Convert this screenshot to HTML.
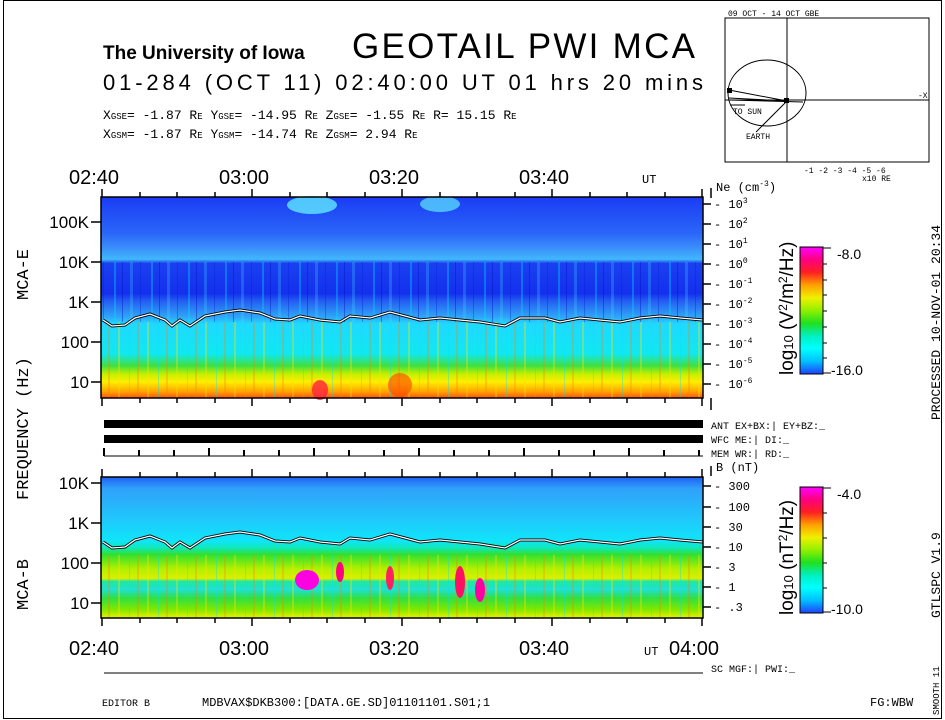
<!DOCTYPE html>
<html><head><meta charset="utf-8"><style>
body{margin:0;background:#fff;}
svg{display:block;font-family:"Liberation Mono","DejaVu Sans Mono",monospace;}
</style></head><body>
<svg width="945" height="720" viewBox="0 0 945 720" xmlns="http://www.w3.org/2000/svg">
<defs>
<linearGradient id="ge" x1="0" y1="0" x2="0" y2="1">
<stop offset="0" stop-color="#1a3cf5"/>
<stop offset="0.18" stop-color="#2a66f8"/>
<stop offset="0.25" stop-color="#3a8cfa"/>
<stop offset="0.31" stop-color="#40b8fb"/>
<stop offset="0.33" stop-color="#1a40f0"/>
<stop offset="0.48" stop-color="#1430ee"/>
<stop offset="0.52" stop-color="#2560f2"/>
<stop offset="0.6" stop-color="#30a8f8"/>
<stop offset="0.63" stop-color="#20d8ff"/>
<stop offset="0.78" stop-color="#10e8f0"/>
<stop offset="0.84" stop-color="#40e040"/>
<stop offset="0.88" stop-color="#c0f000"/>
<stop offset="0.92" stop-color="#ffee00"/>
<stop offset="0.97" stop-color="#ffa000"/>
<stop offset="1" stop-color="#ff5010"/>
</linearGradient>
<linearGradient id="gb" x1="0" y1="0" x2="0" y2="1">
<stop offset="0" stop-color="#2060f5"/>
<stop offset="0.08" stop-color="#30a0fa"/>
<stop offset="0.3" stop-color="#20c8fc"/>
<stop offset="0.45" stop-color="#10e4fa"/>
<stop offset="0.5" stop-color="#10e8c0"/>
<stop offset="0.55" stop-color="#30e030"/>
<stop offset="0.65" stop-color="#b0f000"/>
<stop offset="0.72" stop-color="#d8f000"/>
<stop offset="0.74" stop-color="#20e8a0"/>
<stop offset="0.8" stop-color="#20e0d0"/>
<stop offset="0.86" stop-color="#30e040"/>
<stop offset="0.94" stop-color="#80e800"/>
<stop offset="1" stop-color="#e8f000"/>
</linearGradient>
<linearGradient id="cb" x1="0" y1="1" x2="0" y2="0">
<stop offset="0" stop-color="#2040ff"/>
<stop offset="0.1" stop-color="#00c0ff"/>
<stop offset="0.2" stop-color="#00ffff"/>
<stop offset="0.3" stop-color="#00f0c0"/>
<stop offset="0.4" stop-color="#20e020"/>
<stop offset="0.5" stop-color="#90f000"/>
<stop offset="0.6" stop-color="#f0f000"/>
<stop offset="0.7" stop-color="#ffa000"/>
<stop offset="0.8" stop-color="#ff2020"/>
<stop offset="0.9" stop-color="#ff0080"/>
<stop offset="1" stop-color="#ff00ff"/>
</linearGradient>
<pattern id="st" width="37" height="10" patternUnits="userSpaceOnUse">
<rect x="3" width="2" height="10" fill="#00e0ff" opacity="0.35"/>
<rect x="11" width="1" height="10" fill="#0010c0" opacity="0.4"/>
<rect x="19" width="3" height="10" fill="#40e0ff" opacity="0.25"/>
<rect x="29" width="1" height="10" fill="#0020d0" opacity="0.35"/>
</pattern>
<pattern id="st2" width="29" height="10" patternUnits="userSpaceOnUse">
<rect x="2" width="2" height="10" fill="#ffe000" opacity="0.35"/>
<rect x="13" width="1" height="10" fill="#00e0ff" opacity="0.35"/>
<rect x="21" width="2" height="10" fill="#ff8000" opacity="0.3"/>
</pattern>
</defs>
<rect x="3.5" y="0.5" width="938" height="718" fill="none" stroke="#000"/>

<text x="103" y="59" font-family="Liberation Sans,sans-serif" font-weight="bold" font-size="19">The University of Iowa</text>
<text x="352" y="58" font-family="Liberation Sans,sans-serif" font-size="35" textLength="343">GEOTAIL PWI MCA</text>
<text x="103" y="90" font-family="Liberation Sans,sans-serif" font-size="22" textLength="600">01-284 (OCT 11) 02:40:00 UT   01 hrs   20 mins</text>
<g font-size="13">
<text x="103" y="119">X<tspan font-size="9">GSE</tspan>=  -1.87 R<tspan font-size="9">E</tspan>  Y<tspan font-size="9">GSE</tspan>= -14.95 R<tspan font-size="9">E</tspan>  Z<tspan font-size="9">GSE</tspan>=  -1.55 R<tspan font-size="9">E</tspan>  R= 15.15 R<tspan font-size="9">E</tspan></text>
<text x="103" y="138">X<tspan font-size="9">GSM</tspan>=  -1.87 R<tspan font-size="9">E</tspan>  Y<tspan font-size="9">GSM</tspan>= -14.74 R<tspan font-size="9">E</tspan>  Z<tspan font-size="9">GSM</tspan>=   2.94 R<tspan font-size="9">E</tspan></text>
</g>

<g stroke="#000" fill="none" stroke-width="1">
<rect x="725" y="18" width="204" height="144"/>
<line x1="787" y1="18" x2="787" y2="162"/>
<line x1="725" y1="100" x2="929" y2="100"/>
<ellipse cx="767" cy="93" rx="39" ry="33"/>
<polyline points="729,90 787,101 729,98"/>
<line x1="729" y1="100" x2="803" y2="102"/>
<line x1="787" y1="101" x2="756" y2="132"/>
<line x1="730" y1="105" x2="745" y2="105"/>
</g>
<rect x="727" y="88" width="5" height="5" fill="#000"/>
<rect x="784" y="98" width="5" height="5" fill="#000"/>
<g font-size="8" fill="#000">
<text x="728" y="16">09 OCT - 14 OCT  GBE</text>
<text x="733" y="114">TO SUN</text>
<text x="746" y="139">EARTH</text>
<text x="918" y="98">-X</text>
<text x="804" y="173">-1 -2 -3 -4 -5 -6</text>
<text x="862" y="181">x10 RE</text>
</g>

<g font-family="Liberation Sans,sans-serif" font-size="20">
<text x="69" y="184">02:40</text><text x="219" y="184">03:00</text><text x="369" y="184">03:20</text><text x="519" y="184">03:40</text>
<text x="69" y="655">02:40</text><text x="219" y="655">03:00</text><text x="369" y="655">03:20</text><text x="519" y="655">03:40</text>
<text x="669" y="655">04:00</text>
</g>
<text x="642" y="183" font-size="12">UT</text>
<text x="644" y="655" font-size="12">UT</text>

<rect x="101" y="197" width="602" height="201" fill="url(#ge)"/>
<rect x="101" y="262" width="602" height="60" fill="url(#st)"/>
<rect x="101" y="322" width="602" height="76" fill="url(#st2)"/>
<ellipse cx="312" cy="205" rx="25" ry="9" fill="#60e8ff" opacity="0.8"/>
<ellipse cx="440" cy="204" rx="20" ry="8" fill="#60e8ff" opacity="0.7"/>
<ellipse cx="320" cy="390" rx="8" ry="10" fill="#ff2040" opacity="0.8"/>
<ellipse cx="400" cy="385" rx="12" ry="12" fill="#ff4000" opacity="0.6"/>
<polyline fill="none" stroke="#000" stroke-width="3" points="103,320 112,326 125,325 135,318 150,314 165,320 172,326 180,320 190,326 205,316 225,312 240,310 260,313 275,319 290,320 300,316 320,320 340,322 350,316 370,318 390,312 405,316 420,320 440,318 460,320 480,322 505,326 520,318 545,318 560,322 580,318 600,320 620,322 640,318 660,316 680,318 703,320"/>
<polyline fill="none" stroke="#fff" stroke-width="1.3" points="103,320 112,326 125,325 135,318 150,314 165,320 172,326 180,320 190,326 205,316 225,312 240,310 260,313 275,319 290,320 300,316 320,320 340,322 350,316 370,318 390,312 405,316 420,320 440,318 460,320 480,322 505,326 520,318 545,318 560,322 580,318 600,320 620,322 640,318 660,316 680,318 703,320"/>
<rect x="101" y="197" width="602" height="201" fill="none" stroke="#000" stroke-width="1.5"/>

<rect x="101" y="477" width="602" height="141" fill="url(#gb)"/>
<rect x="101" y="555" width="602" height="63" fill="url(#st2)"/>
<ellipse cx="307" cy="580" rx="12" ry="10" fill="#ff00e0"/>
<ellipse cx="340" cy="572" rx="4" ry="10" fill="#ff0080"/>
<ellipse cx="390" cy="578" rx="4" ry="12" fill="#ff2060"/>
<ellipse cx="460" cy="582" rx="5" ry="16" fill="#ff1060"/>
<ellipse cx="480" cy="590" rx="5" ry="12" fill="#ff00a0"/>
<polyline fill="none" stroke="#000" stroke-width="3" points="103,542 112,548 125,547 135,540 150,536 165,542 172,548 180,542 190,548 205,538 225,534 240,532 260,535 275,541 290,542 300,538 320,542 340,544 350,538 370,540 390,534 405,538 420,542 440,540 460,542 480,544 505,548 520,540 545,540 560,544 580,540 600,542 620,544 640,540 660,538 680,540 703,542"/>
<polyline fill="none" stroke="#fff" stroke-width="1.3" points="103,542 112,548 125,547 135,540 150,536 165,542 172,548 180,542 190,548 205,538 225,534 240,532 260,535 275,541 290,542 300,538 320,542 340,544 350,538 370,540 390,534 405,538 420,542 440,540 460,542 480,544 505,548 520,540 545,540 560,544 580,540 600,542 620,544 640,540 660,538 680,540 703,542"/>
<rect x="101" y="477" width="602" height="141" fill="none" stroke="#000" stroke-width="1.5"/>

<g stroke="#000" stroke-width="1.5">
<path d="M102,197v-8M140,197v-5M177,197v-5M215,197v-5M252,197v-8M290,197v-5M327,197v-5M365,197v-5M402,197v-8M440,197v-5M477,197v-5M515,197v-5M552,197v-8M590,197v-5M627,197v-5M665,197v-5M702,197v-8"/>
<path d="M102,398v8M140,398v5M177,398v5M215,398v5M252,398v8M290,398v5M327,398v5M365,398v5M402,398v8M440,398v5M477,398v5M515,398v5M552,398v8M590,398v5M627,398v5M665,398v5M702,398v8"/>
<path d="M102,477v-8M140,477v-5M177,477v-5M215,477v-5M252,477v-8M290,477v-5M327,477v-5M365,477v-5M402,477v-8M440,477v-5M477,477v-5M515,477v-5M552,477v-8M590,477v-5M627,477v-5M665,477v-5M702,477v-8"/>
<path d="M102,618v8M140,618v5M177,618v5M215,618v5M252,618v8M290,618v5M327,618v5M365,618v5M402,618v8M440,618v5M477,618v5M515,618v5M552,618v8M590,618v5M627,618v5M665,618v5M702,618v8"/>
<path d="M91,222h10M91,262h10M91,302h10M91,342h10M91,382h10M91,483h10M91,523h10M91,563h10M91,603h10"/>
<path d="M703,204h8M703,224h8M703,244h8M703,264h8M703,284h8M703,304h8M703,324h8M703,344h8M703,364h8M703,384h8"/>
<path d="M703,486h8M703,507h8M703,527h8M703,547h8M703,567h8M703,587h8M703,607h8"/>
<path d="M711,188v10M711,398v12M711,466v10"/>
</g>
<g stroke="#000" stroke-width="2">
<path d="M104,456v-8M139,456v-6M174,456v-6M209,456v-8M244,456v-6M279,456v-6M314,456v-8M349,456v-6M384,456v-6M419,456v-8M454,456v-6M489,456v-6M524,456v-8M559,456v-6M594,456v-6M629,456v-8M664,456v-6M699,456v-6"/>
</g>
<line x1="104" y1="456" x2="703" y2="456" stroke="#000"/>
<line x1="104" y1="673" x2="703" y2="673" stroke="#000"/>
<rect x="104" y="420" width="599" height="8" fill="#000"/>
<rect x="104" y="435" width="599" height="8" fill="#000"/>

<g font-family="Liberation Sans,sans-serif" font-size="17" text-anchor="end">
<text x="89" y="228">100K</text><text x="89" y="268">10K</text><text x="89" y="308">1K</text><text x="89" y="348">100</text><text x="89" y="388">10</text>
<text x="89" y="489">10K</text><text x="89" y="529">1K</text><text x="89" y="569">100</text><text x="89" y="609">10</text>
</g>
<g font-size="17">
<text transform="translate(28,300) rotate(-90)">MCA-E</text>
<text transform="translate(28,500) rotate(-90)">FREQUENCY (Hz)</text>
<text transform="translate(28,610) rotate(-90)">MCA-B</text>
</g>

<g font-size="12">
<text x="716" y="191">Ne (cm<tspan font-size="8" dy="-5">-3</tspan><tspan dy="5">)</tspan></text>
<text x="714" y="208">- 10<tspan font-size="8" dy="-5">3</tspan></text>
<text x="714" y="228">- 10<tspan font-size="8" dy="-5">2</tspan></text>
<text x="714" y="248">- 10<tspan font-size="8" dy="-5">1</tspan></text>
<text x="714" y="268">- 10<tspan font-size="8" dy="-5">0</tspan></text>
<text x="714" y="288">- 10<tspan font-size="8" dy="-5">-1</tspan></text>
<text x="714" y="308">- 10<tspan font-size="8" dy="-5">-2</tspan></text>
<text x="714" y="328">- 10<tspan font-size="8" dy="-5">-3</tspan></text>
<text x="714" y="348">- 10<tspan font-size="8" dy="-5">-4</tspan></text>
<text x="714" y="368">- 10<tspan font-size="8" dy="-5">-5</tspan></text>
<text x="714" y="388">- 10<tspan font-size="8" dy="-5">-6</tspan></text>
<text x="716" y="471">B (nT)</text>
<text x="714" y="490">- 300</text>
<text x="714" y="511">- 100</text>
<text x="714" y="531">-  30</text>
<text x="714" y="551">-  10</text>
<text x="714" y="571">-   3</text>
<text x="714" y="591">-   1</text>
<text x="714" y="611">-  .3</text>
</g>
<g font-size="10">
<text x="711" y="429">ANT EX+BX:| EY+BZ:_</text>
<text x="711" y="443">WFC ME:|    DI:_</text>
<text x="711" y="457">MEM WR:|    RD:_</text>
<text x="711" y="672">SC MGF:|  PWI:_</text>
</g>

<rect x="800" y="247" width="23" height="127" fill="url(#cb)" stroke="#000"/>
<rect x="800" y="487" width="23" height="126" fill="url(#cb)" stroke="#000"/>
<g stroke="#000"><path d="M823,248h8M823,264h4M823,280h4M823,295h4M823,311h4M823,327h4M823,343h4M823,358h4M823,373h8M823,488h8M823,513h4M823,538h4M823,563h4M823,588h4M823,612h8"/></g>
<g font-family="Liberation Sans,sans-serif" font-size="14">
<text x="837" y="259">-8.0</text><text x="831" y="375">-16.0</text>
<text x="837" y="499">-4.0</text><text x="831" y="614">-10.0</text>
</g>
<g font-family="Liberation Sans,sans-serif" font-size="19">
<text transform="translate(793,375) rotate(-90)">log<tspan font-size="13">10</tspan> (V<tspan font-size="12" dy="-6">2</tspan><tspan dy="6">/m</tspan><tspan font-size="12" dy="-6">2</tspan><tspan dy="6">/Hz)</tspan></text>
<text transform="translate(793,615) rotate(-90)">log<tspan font-size="13">10</tspan> (nT<tspan font-size="12" dy="-6">2</tspan><tspan dy="6">/Hz)</tspan></text>
</g>
<g font-size="13">
<text transform="translate(940,420) rotate(-90)">PROCESSED 10-NOV-01  20:34</text>
<text transform="translate(940,618) rotate(-90)">GTLSPC    V1.9</text>
</g>
<text transform="translate(939,715) rotate(-90)" font-size="9">SMOOTH 11</text>

<g font-size="12">
<text x="102" y="706" font-size="10">EDITOR B</text>
<text x="202" y="706">MDBVAX$DKB300:[DATA.GE.SD]01101101.S01;1</text>
<text x="870" y="706">FG:WBW</text>
</g>
</svg>
</body></html>
